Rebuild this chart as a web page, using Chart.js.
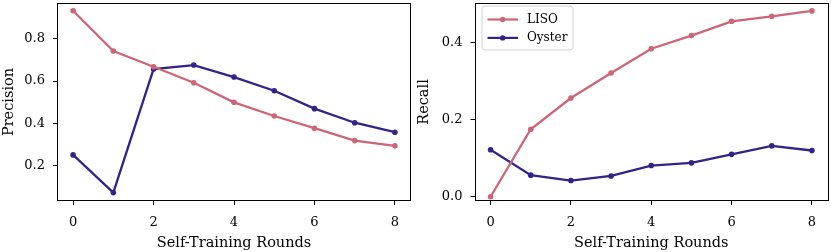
<!DOCTYPE html>
<html><head><meta charset="utf-8">
<script src="https://cdn.jsdelivr.net/npm/chart.js@4"></script>
<style>
html,body{margin:0;padding:0;background:#fff;}
#wrap{position:relative;width:831px;height:252px;overflow:hidden;}
canvas{position:absolute;top:0;}
</style></head><body>
<div id="wrap">
<canvas id="c1" width="415" height="252" style="left:0"></canvas>
<canvas id="c2" width="416" height="252" style="left:415px"></canvas>
</div>
<script>
const rounds = [0, 1, 2, 3, 4, 5, 6, 7, 8];
const seriesNames = ['LISO', 'Oyster'];
const lisoPrecision = [0.934, 0.743, 0.668, 0.592, 0.499, 0.434, 0.376, 0.317, 0.292];
const oysterPrecision = [0.249, 0.070, 0.657, 0.676, 0.619, 0.554, 0.469, 0.402, 0.357];
const lisoRecall = [0.000, 0.175, 0.256, 0.321, 0.384, 0.418, 0.455, 0.468, 0.482];
const oysterRecall = [0.122, 0.056, 0.042, 0.054, 0.081, 0.088, 0.110, 0.132, 0.120];
const xTicks = [0, 2, 4, 6, 8];
const precisionTicks = [0.2, 0.4, 0.6, 0.8];
const recallTicks = [0.0, 0.2, 0.4];
const xTitle = 'Self-Training Rounds';

const FONT = 'DejaVu Serif';
const colors = ['#CC6677', '#332288'];

const boxPlugin = {
  id: 'box',
  afterDraw(chart) {
    const a = chart.chartArea, ctx = chart.ctx;
    ctx.save();
    ctx.strokeStyle = '#000';
    ctx.lineWidth = 1;
    ctx.strokeRect(Math.round(a.left) + 0.5, Math.round(a.top) + 0.5, Math.round(a.right - a.left) - 1, Math.round(a.bottom - a.top) - 1);
    ctx.restore();
  }
};

const legendPlugin = {
  id: 'boxLegend',
  afterDraw(chart, args, opts) {
    if (!opts.show) return;
    const ctx = chart.ctx, a = chart.chartArea;
    const x0 = a.left + 7.5, y0 = a.top + 3;
    const w = 91, h = 44, r = 3;
    ctx.save();
    ctx.beginPath();
    ctx.roundRect(x0, y0, w, h, r);
    ctx.fillStyle = 'rgba(255,255,255,0.8)';
    ctx.fill();
    ctx.strokeStyle = '#d0d0d0';
    ctx.lineWidth = 1;
    ctx.stroke();
    ctx.font = '12px "' + FONT + '"';
    ctx.textBaseline = 'middle';
    chart.data.datasets.forEach((ds, i) => {
      const y = y0 + 13.5 + i * 18.4;
      ctx.strokeStyle = ds.borderColor;
      ctx.lineWidth = 2.2;
      ctx.beginPath();
      ctx.moveTo(x0 + 5.5, y);
      ctx.lineTo(x0 + 36, y);
      ctx.stroke();
      ctx.fillStyle = ds.borderColor;
      ctx.beginPath();
      ctx.arc(x0 + 20.7, y, 2.7, 0, Math.PI * 2);
      ctx.fill();
      ctx.fillStyle = '#000';
      ctx.fillText(ds.label, x0 + 45, y);
    });
    ctx.restore();
  }
};

function makeChart(id, yTitle, series, yMin, yMax, yTickVals, yAxisWidth, padRight, showLegend) {
  const datasets = series.map((vals, i) => ({
    label: seriesNames[i],
    data: rounds.map((r, k) => ({ x: r, y: vals[k] })),
    borderColor: colors[i],
    backgroundColor: colors[i],
    borderWidth: 2.3,
    pointRadius: 2.8,
    pointHoverRadius: 2.8,
    pointBorderWidth: 0,
    tension: 0
  }));
  return new Chart(document.getElementById(id), {
    type: 'line',
    data: { datasets },
    plugins: [boxPlugin, legendPlugin],
    options: {
      responsive: false,
      animation: false,
      events: [],
      layout: { padding: { top: 3, right: padRight, bottom: 0, left: 0 } },
      plugins: {
        legend: { display: false },
        tooltip: { enabled: false },
        boxLegend: { show: showLegend }
      },
      scales: {
        x: {
          type: 'linear',
          min: -0.4, max: 8.4,
          afterBuildTicks: s => { s.ticks = xTicks.map(v => ({ value: v })); },
          afterFit: s => { s.height = 51; s.paddingLeft = 0; s.paddingRight = 0; },
          grid: { display: true, drawOnChartArea: false, drawTicks: true, tickLength: 4, color: '#000', tickColor: '#000' },
          border: { display: false },
          ticks: { color: '#000', font: { family: FONT, size: 13 }, padding: 10, maxRotation: 0, callback: v => String(v) },
          title: { display: true, text: xTitle, color: '#000', font: { family: FONT, size: 14.5 }, padding: { top: 2, bottom: 0 } }
        },
        y: {
          min: yMin, max: yMax,
          afterBuildTicks: s => { s.ticks = yTickVals.map(v => ({ value: v })); },
          afterFit: s => { s.width = yAxisWidth; s.paddingTop = 0; s.paddingBottom = 0; },
          grid: { display: true, drawOnChartArea: false, drawTicks: true, tickLength: 4, color: '#000', tickColor: '#000' },
          border: { display: false },
          ticks: { color: '#000', font: { family: FONT, size: 13 }, padding: 8, callback: v => Number(v).toFixed(1) },
          title: { display: true, text: yTitle, color: '#000', font: { family: FONT, size: 14.5 }, padding: { top: 1, bottom: 0 } }
        }
      }
    }
  });
}

makeChart('c1', 'Precision', [lisoPrecision, oysterPrecision], 0.030, 0.971, precisionTicks, 57, 4, false);
makeChart('c2', 'Recall', [lisoRecall, oysterRecall], -0.011, 0.5025, recallTicks, 59.5, 3, true);
</script>
</body></html>
